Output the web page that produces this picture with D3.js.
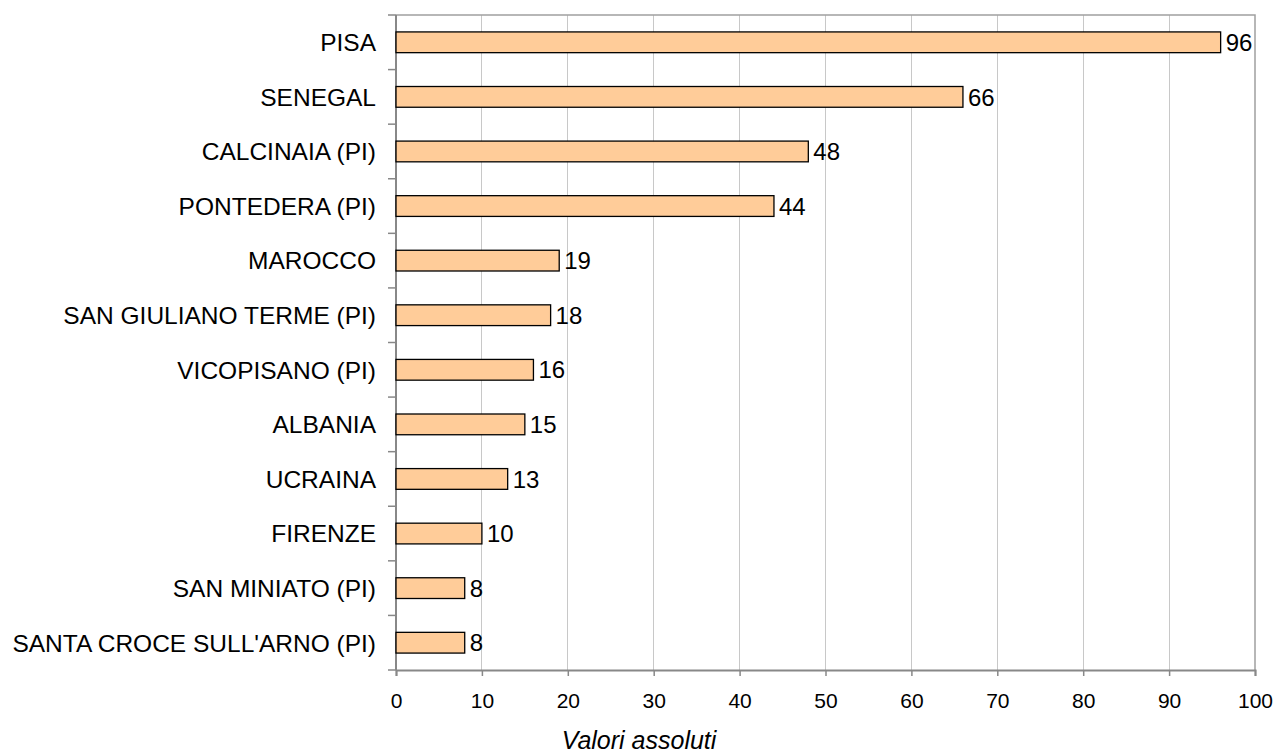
<!DOCTYPE html>
<html><head><meta charset="utf-8">
<script src="https://cdn.jsdelivr.net/npm/d3@7"></script>
<style>body{margin:0;background:#fff}svg{display:block}text{font-family:"Liberation Sans",Arial,sans-serif;fill:#000}</style>
</head><body>
<svg id="c" width="1276" height="754"></svg>
<script>
const categories = ["PISA","SENEGAL","CALCINAIA (PI)","PONTEDERA (PI)","MAROCCO","SAN GIULIANO TERME (PI)","VICOPISANO (PI)","ALBANIA","UCRAINA","FIRENZE","SAN MINIATO (PI)","SANTA CROCE SULL'ARNO (PI)"];
const values = [96,66,48,44,19,18,16,15,13,10,8,8];
const xTicks = [0,10,20,30,40,50,60,70,80,90,100];
const axisTitle = "Valori assoluti";

const svg = d3.select("#c");
const L = 396, R = 1255, T = 15, B = 670;
const x = d3.scaleLinear().domain([0,100]).range([L,R]);
const y = d3.scaleBand().domain(categories).range([T,B]).paddingInner(0.62).paddingOuter(0.31);
const band = d3.scaleBand().domain(categories).range([T,B]);

// gridlines
svg.append("g").selectAll("line").data(xTicks.slice(1,-1)).join("line")
  .attr("x1",d=>x(d)).attr("x2",d=>x(d)).attr("y1",T).attr("y2",B)
  .attr("stroke","#c8c8c8").attr("stroke-width",1).attr("shape-rendering","crispEdges");
// frame top/right
svg.append("path").attr("d",`M${L},${T}H${R}V${B}`).attr("fill","none").attr("stroke","#a0a0a0").attr("stroke-width",1.5);

// x axis
const xa = svg.append("g").attr("transform",`translate(0,${B})`)
  .call(d3.axisBottom(x).tickValues(xTicks).tickSize(6));
xa.select(".domain").attr("stroke","#888").attr("stroke-width",2);
xa.selectAll(".tick line").attr("stroke","#888").attr("stroke-width",1.5);
xa.selectAll(".tick text").attr("y",38).attr("dy",null).attr("font-size",21)
  .attr("font-family","Liberation Sans, Arial, sans-serif").attr("fill","#000");

// y axis
const ya = svg.append("g").attr("transform",`translate(${L},0)`);
ya.append("line").attr("x1",0).attr("x2",0).attr("y1",T).attr("y2",B).attr("stroke","#888").attr("stroke-width",2);
const bounds = categories.map(c=>band(c)).concat([B]);
ya.selectAll("line.t").data(bounds).join("line").attr("class","t")
  .attr("x1",-8).attr("x2",0).attr("y1",d=>d).attr("y2",d=>d).attr("stroke","#888").attr("stroke-width",1.5);
ya.selectAll("text").data(categories).join("text")
  .attr("x",-20).attr("y",d=>band(d)+band.bandwidth()/2).attr("dy","0.36em")
  .attr("text-anchor","end").attr("font-size",24.5).text(d=>d);

// bars
svg.append("g").selectAll("rect").data(values).join("rect")
  .attr("x",x(0)).attr("y",(d,i)=>y(categories[i]))
  .attr("width",d=>x(d)-x(0)).attr("height",y.bandwidth())
  .attr("fill","#FFCC99").attr("stroke","#000").attr("stroke-width",1.3);

// labels
svg.append("g").selectAll("text").data(values).join("text")
  .attr("x",d=>x(d)+5).attr("y",(d,i)=>y(categories[i])+y.bandwidth()/2).attr("dy","0.36em")
  .attr("font-size",24).text(d=>d);

svg.append("text").attr("x",639).attr("y",749).attr("text-anchor","middle")
  .attr("font-size",25).attr("font-style","italic").text(axisTitle);
</script>
</body></html>
